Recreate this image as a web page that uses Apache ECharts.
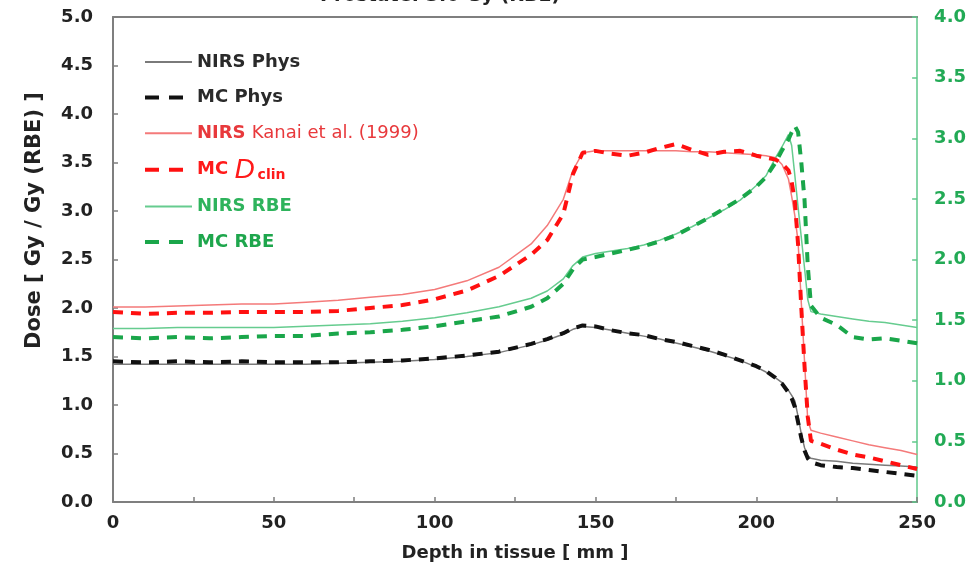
<!DOCTYPE html>
<html>
<head>
<meta charset="utf-8">
<script src="https://cdn.jsdelivr.net/npm/echarts@6.0.0/dist/echarts.min.js"></script>
<style>
html,body{margin:0;padding:0;background:#fff;}
#chart{width:969px;height:570px;}
</style>
</head>
<body>
<div id="chart"></div>
<script>
// ---- data ----
const titleText = 'Prostate: 3.6 Gy (RBE)';
const xAxisName = 'Depth in tissue [ mm ]';
const yAxisName = 'Dose [ Gy / Gy (RBE) ]';
const seriesNames = ['NIRS Phys', 'MC Phys', 'NIRS Kanai et al. (1999)', 'MC Dclin', 'NIRS RBE', 'MC RBE'];

const depth = [0,10,20,30,40,50,60,70,80,90,100,110,120,130,135,140,143,146,150,155,160,165,170,175,180,185,190,195,200,203,206,208,210,211,212,213,214,215,216,217,220,225,230,235,240,245,250];

const nirsPhys = [1.42,1.42,1.42,1.42,1.42,1.42,1.42,1.43,1.44,1.45,1.47,1.50,1.54,
  1.62,1.67,1.73,1.78,1.81,
  1.80,1.77,1.74,1.71,1.68,1.64,1.60,1.56,1.51,1.46,1.39,
  1.34,1.28,1.23,
  1.15,1.10,1.04,0.88,0.70,0.56,0.48,0.45,
  0.43,0.42,0.40,0.39,0.38,0.37,0.36];

const mcPhys = [1.45,1.44,1.45,1.44,1.45,1.44,1.44,1.44,1.45,1.46,1.48,1.51,1.55,
  1.63,1.68,1.74,1.79,1.82,
  1.81,1.77,1.74,1.72,1.68,1.65,1.61,1.57,1.52,1.46,1.40,
  1.35,1.28,1.22,
  1.13,1.07,0.98,0.82,0.66,0.53,0.45,0.41,
  0.38,0.36,0.35,0.33,0.31,0.29,0.27];

const nirsKanai = [2.01,2.01,2.02,2.03,2.04,2.04,2.06,2.08,2.11,2.14,2.19,2.28,2.42,
  2.66,2.85,3.12,3.42,3.60,
  3.62,3.62,3.62,3.62,3.62,3.62,3.61,3.61,3.60,3.59,3.58,
  3.57,3.55,3.48,
  3.33,3.15,2.95,2.68,2.05,1.45,0.84,0.74,
  0.71,0.67,0.63,0.59,0.56,0.53,0.49];

const mcDclin = [1.96,1.94,1.95,1.95,1.96,1.96,1.96,1.97,2.00,2.03,2.09,2.18,2.33,
  2.55,2.70,2.97,3.38,3.60,
  3.62,3.59,3.57,3.60,3.65,3.69,3.63,3.58,3.61,3.62,3.57,
  3.55,3.53,3.49,
  3.42,3.30,3.10,2.65,2.00,1.40,0.88,0.63,
  0.60,0.54,0.49,0.46,0.42,0.38,0.34];

const nirsRbe = [1.43,1.43,1.44,1.44,1.44,1.44,1.45,1.46,1.47,1.49,1.52,1.56,1.61,
  1.68,1.74,1.84,1.95,2.02,
  2.05,2.07,2.09,2.12,2.16,2.21,2.27,2.34,2.41,2.49,2.61,
  2.69,2.84,2.93,
  3.03,2.94,2.69,2.43,2.18,1.93,1.67,1.57,
  1.55,1.53,1.51,1.49,1.48,1.46,1.44];

const mcRbe = [1.36,1.35,1.36,1.35,1.36,1.37,1.37,1.39,1.40,1.42,1.45,1.49,1.53,
  1.61,1.68,1.80,1.92,2.00,
  2.02,2.05,2.08,2.11,2.15,2.20,2.27,2.34,2.42,2.50,2.60,
  2.68,2.80,2.90,
  2.99,3.05,3.10,3.05,2.80,2.49,1.95,1.62,
  1.52,1.46,1.36,1.34,1.35,1.33,1.31];

// ---- styling ----
const FONT = 'DejaVu Sans';
const pair = arr => depth.map((d, i) => [d, arr[i]]);
const DASH = [10, 8];

const seriesDefs = [
  {name: seriesNames[0], data: nirsPhys, color: '#7a7a7a', width: 1.5, dashed: false, axis: 0, text: '#2a2a2a'},
  {name: seriesNames[1], data: mcPhys, color: '#111111', width: 4, dashed: true, axis: 0, text: '#2a2a2a'},
  {name: seriesNames[2], data: nirsKanai, color: '#f47a7a', width: 1.5, dashed: false, axis: 0, text: '#e8393c'},
  {name: seriesNames[3], data: mcDclin, color: '#ff1010', width: 4, dashed: true, axis: 0, text: '#ff1a1a'},
  {name: seriesNames[4], data: nirsRbe, color: '#66cc8f', width: 1.5, dashed: false, axis: 1, text: '#2eb35c'},
  {name: seriesNames[5], data: mcRbe, color: '#1aa64a', width: 4, dashed: true, axis: 1, text: '#1ea64c'}
];

const chart = echarts.init(document.getElementById('chart'), null, {renderer: 'canvas'});

const option = {
  backgroundColor: '#ffffff',
  animation: false,
  title: {
    text: titleText,
    left: 320,
    top: -13,
    padding: 0,
    textStyle: {fontFamily: FONT, fontSize: 19, fontWeight: 'bold', color: '#222'}
  },
  grid: {left: 113, right: 49, top: 17, bottom: 68},
  legend: {
    orient: 'vertical',
    left: 143,
    top: 49,
    padding: 0,
    itemWidth: 47,
    itemHeight: 14,
    itemGap: 9.6,
    data: seriesDefs.map(s => ({
      name: s.name,
      textStyle: {color: s.text},
      itemStyle: {color: 'rgba(0,0,0,0)', borderWidth: 0, opacity: 0},
      lineStyle: {width: s.dashed ? 4 : 2, type: s.dashed ? [14, 10] : 'solid', color: s.color, opacity: 1}
    })),
    formatter: function (name) {
      if (name === 'MC Dclin') return 'MC {d|D}{s|clin}';
      if (name === 'NIRS Kanai et al. (1999)') return 'NIRS {r|Kanai et al. (1999)}';
      return name;
    },
    textStyle: {
      fontFamily: FONT, fontSize: 18, fontWeight: 'bold', lineHeight: 26,
      rich: {
        d: {fontFamily: 'Liberation Sans', fontStyle: 'italic', fontWeight: 'normal', fontSize: 28, lineHeight: 26, color: '#ff1a1a'},
        s: {fontFamily: FONT, fontWeight: 'bold', fontSize: 14, lineHeight: 26, verticalAlign: 'bottom', padding: [10, 0, 0, 3], color: '#ff1a1a'},
        r: {fontFamily: FONT, fontWeight: 'normal', fontSize: 18, lineHeight: 26, color: '#e8393c'}
      }
    }
  },
  xAxis: [
    {
      type: 'value', min: 0, max: 250, interval: 25, position: 'bottom',
      name: xAxisName, nameLocation: 'middle', nameGap: 42,
      nameTextStyle: {fontFamily: FONT, fontSize: 18, fontWeight: 'bold', color: '#222'},
      axisLine: {show: true, onZero: false, lineStyle: {color: '#7f7f7f', width: 2}},
      axisTick: {show: true, inside: true, length: 5, lineStyle: {color: '#7f7f7f', width: 1.5}},
      axisLabel: {
        margin: 12, fontFamily: FONT, fontSize: 18, fontWeight: 'bold', color: '#222',
        formatter: v => (v % 50 === 0 ? String(v) : '')
      },
      splitLine: {show: false}
    },
    {
      type: 'value', min: 0, max: 250, position: 'top',
      axisLine: {show: true, onZero: false, lineStyle: {color: '#7f7f7f', width: 2}},
      axisTick: {show: false}, axisLabel: {show: false}, splitLine: {show: false}
    }
  ],
  yAxis: [
    {
      type: 'value', min: 0, max: 5, interval: 0.5, position: 'left',
      name: yAxisName, nameLocation: 'middle', nameGap: 68, nameRotate: 90,
      nameTextStyle: {fontFamily: FONT, fontSize: 21, fontWeight: 'bold', color: '#222', padding: [0, 0, 0, 78]},
      axisLine: {show: true, onZero: false, lineStyle: {color: '#7f7f7f', width: 2}},
      axisTick: {show: true, inside: true, length: 5, lineStyle: {color: '#7f7f7f', width: 1.5}},
      axisLabel: {margin: 20, fontFamily: FONT, fontSize: 18, fontWeight: 'bold', color: '#222', formatter: v => v.toFixed(1)},
      splitLine: {show: false}
    },
    {
      type: 'value', min: 0, max: 4, interval: 0.5, position: 'right',
      axisLine: {show: true, onZero: false, lineStyle: {color: '#5fc98a', width: 1.5}},
      axisTick: {show: true, inside: true, length: 5, lineStyle: {color: '#5fc98a', width: 1.5}},
      axisLabel: {margin: 17, fontFamily: FONT, fontSize: 18, fontWeight: 'bold', color: '#22aa55', formatter: v => v.toFixed(1)},
      splitLine: {show: false}
    }
  ],
  series: seriesDefs.map(s => ({
    name: s.name,
    type: 'line',
    xAxisIndex: 0,
    yAxisIndex: s.axis,
    data: pair(s.data),
    symbol: 'none',
    showSymbol: false,
    smooth: false,
    color: s.color,
    lineStyle: {color: s.color, width: s.width, type: s.dashed ? DASH : 'solid'},
    z: s.dashed ? 3 : 2
  }))
};

chart.setOption(option);
</script>
</body>
</html>
